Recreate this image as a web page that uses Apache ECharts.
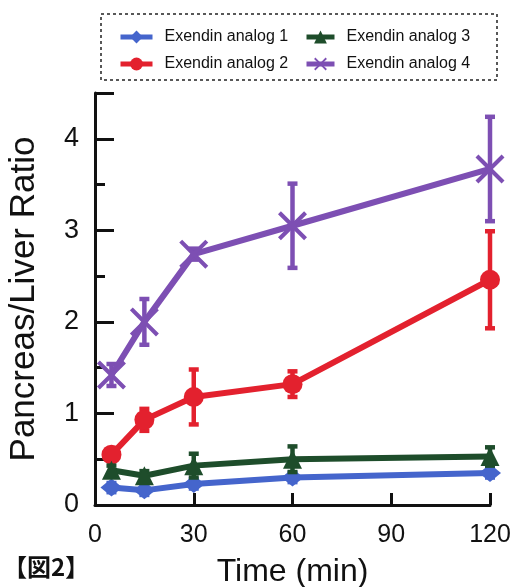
<!DOCTYPE html>
<html><head><meta charset="utf-8">
<script src="https://cdn.jsdelivr.net/npm/echarts@6/dist/echarts.min.js"></script>
<style>html,body{margin:0;padding:0;background:#fff}#c{width:518px;height:587px}</style>
</head><body><div id="c"></div>
<script>
var times = [5, 15, 30, 60, 120];
var seriesNames = ['Exendin analog 1', 'Exendin analog 2', 'Exendin analog 3', 'Exendin analog 4'];
var analog1 = [0.19, 0.16, 0.23, 0.30, 0.35];
var err1 = [0.05, 0.05, 0.05, 0.05, 0.05];
var analog2 = [0.55, 0.93, 1.18, 1.32, 2.46];
var err2 = [0.06, 0.12, 0.30, 0.14, 0.53];
var analog3 = [0.38, 0.32, 0.43, 0.50, 0.53];
var err3 = [0.05, 0.05, 0.13, 0.14, 0.10];
var analog4 = [1.42, 2.00, 2.74, 3.05, 3.67];
var err4 = [0.12, 0.25, 0.06, 0.46, 0.57];
var xTicks = [0, 30, 60, 90, 120];
var yTicks = [0, 1, 2, 3, 4];

var colors = ['#4565cc', '#e3212e', '#1e4d2b', '#7d4fb3'];
var symbols = ['diamond', 'circle', 'triangle',
  'path://M2,0 L10,8 L18,0 L20,2 L12,10 L20,18 L18,20 L10,12 L2,20 L0,18 L8,10 L0,2 Z'];
var sizes = [[22, 18], 20, 19, 29];
var values = [analog1, analog2, analog3, analog4];
var errs = [err1, err2, err3, err4];
var FONT = 'Liberation Sans, Arial, sans-serif';

var chart = echarts.init(document.getElementById('c'), null, {renderer: 'canvas'});
var series = [];
values.forEach(function (vals, i) {
  var ed = times.map(function (t, k) { return [t, vals[k] - errs[i][k], vals[k] + errs[i][k]]; });
  series.push({
    type: 'custom', name: seriesNames[i] + ' err', z: 2 + i * 2,
    xAxisIndex: 0, yAxisIndex: 0,
    data: ed, encode: {x: 0, y: [1, 2]},
    renderItem: function (params, api) {
      var lo = api.coord([api.value(0), api.value(1)]);
      var hi = api.coord([api.value(0), api.value(2)]);
      var w = 5;
      var st = {stroke: colors[i], lineWidth: 4.5, fill: null};
      return {type: 'group', children: [
        {type: 'line', shape: {x1: lo[0], y1: lo[1], x2: hi[0], y2: hi[1]}, style: st},
        {type: 'line', shape: {x1: hi[0] - w, y1: hi[1], x2: hi[0] + w, y2: hi[1]}, style: st},
        {type: 'line', shape: {x1: lo[0] - w, y1: lo[1], x2: lo[0] + w, y2: lo[1]}, style: st}
      ]};
    }
  });
  series.push({
    type: 'line', name: seriesNames[i], z: 3 + i * 2,
    xAxisIndex: 0, yAxisIndex: 0,
    data: times.map(function (t, k) { return [t, vals[k]]; }),
    symbol: symbols[i], symbolSize: sizes[i],
    lineStyle: {color: colors[i], width: 6},
    itemStyle: {color: colors[i], borderWidth: 0},
    emphasis: {disabled: true},
    animation: false
  });
});

var legendText = {fontFamily: FONT, fontSize: 16, color: '#111', padding: [0, 0, 0, 7]};
chart.setOption({
  animation: false,
  graphic: [
    {type: 'rect', shape: {x: 101, y: 14, width: 396, height: 66},
     style: {fill: null, stroke: '#222', lineWidth: 1.5, lineDash: [3, 3]}},
    {type: 'text', left: 3, top: 555,
     style: {text: '【図2】', font: 'bold 24px "Noto Sans CJK JP", serif', fill: '#111'}}
  ],
  legend: [
    {data: [seriesNames[0], seriesNames[1]], orient: 'vertical', left: 113, top: 24,
     itemGap: 11, itemWidth: 32, itemHeight: 16,
     lineStyle: {width: 5}, textStyle: legendText},
    {data: [seriesNames[2], seriesNames[3]], orient: 'vertical', left: 299, top: 24,
     itemGap: 11, itemWidth: 28, itemHeight: 16,
     lineStyle: {width: 5}, textStyle: legendText}
  ],
  grid: {left: 95, right: 28, top: 93, bottom: 82, containLabel: false, outerBoundsMode: 'none'},
  xAxis: [{
    type: 'value', min: 0, max: 120, interval: 30,
    name: 'Time (min)', nameLocation: 'middle', nameGap: 51,
    nameTextStyle: {fontFamily: FONT, fontSize: 32, color: '#111'},
    axisLine: {lineStyle: {color: '#111', width: 3}},
    axisTick: {inside: true, length: 12, lineStyle: {color: '#111', width: 3}},
    axisLabel: {fontFamily: FONT, fontSize: 25, color: '#111', margin: 18,
      formatter: function (v) { return xTicks.indexOf(v) >= 0 ? String(v) : ''; }},
    splitLine: {show: false}
  }],
  yAxis: [{
    type: 'value', min: 0, max: 4.5, interval: 1,
    name: 'Pancreas/Liver Ratio', nameLocation: 'middle', nameGap: 53,
    nameTextStyle: {fontFamily: FONT, fontSize: 35, color: '#111'},
    axisLine: {lineStyle: {color: '#111', width: 3}},
    axisTick: {inside: true, length: 19, lineStyle: {color: '#111', width: 3}},
    axisLabel: {fontFamily: FONT, fontSize: 27, color: '#111', margin: 16,
      formatter: function (v) { return yTicks.indexOf(v) >= 0 ? String(v) : ''; }},
    splitLine: {show: false}
  }, {
    type: 'value', min: 0, max: 4.5, interval: 0.5, position: 'left',
    axisLine: {show: false},
    axisTick: {inside: true, length: 10, lineStyle: {color: '#111', width: 3}},
    axisLabel: {show: false}, splitLine: {show: false}
  }],
  series: series
});
</script></body></html>
